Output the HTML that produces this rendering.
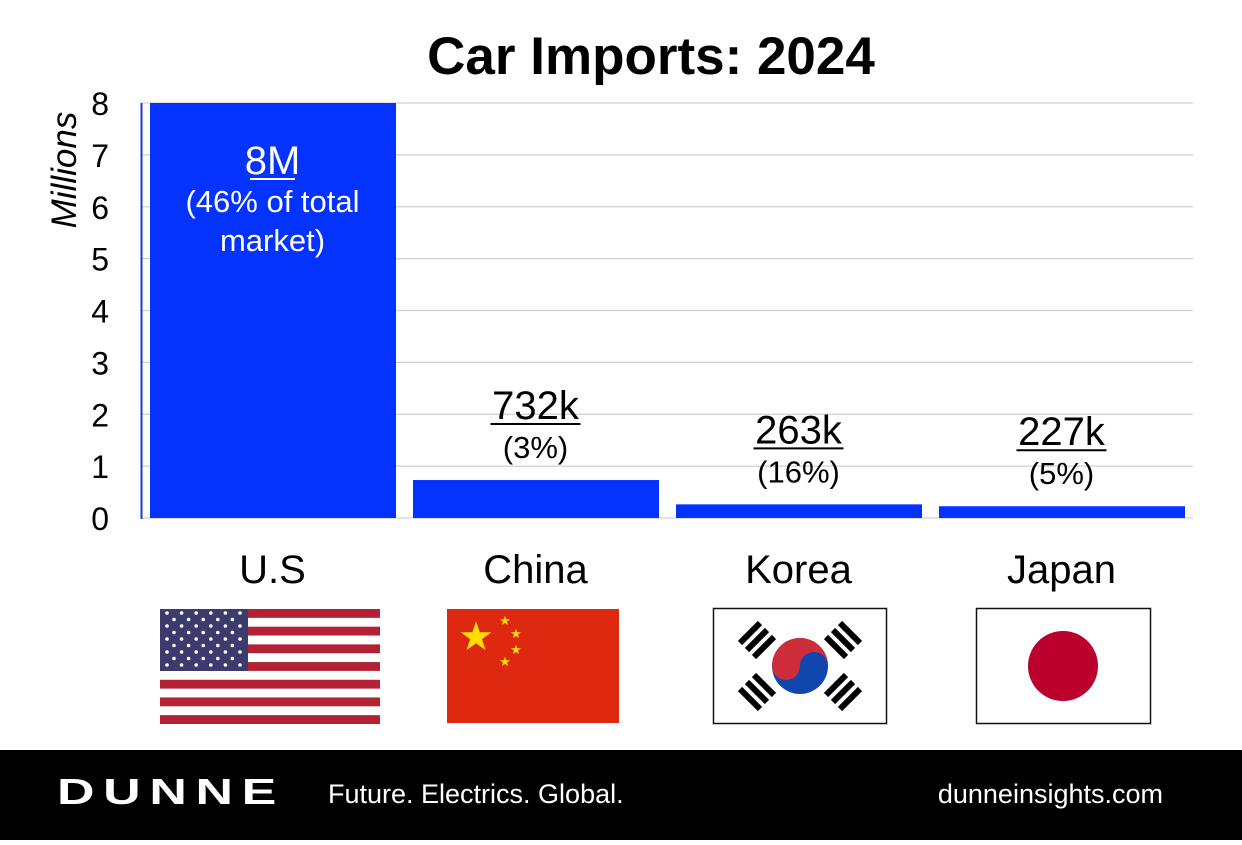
<!DOCTYPE html>
<html><head><meta charset="utf-8"><style>
body{margin:0;width:1242px;height:840px;background:#fff;overflow:hidden;font-family:"Liberation Sans",Arial,sans-serif}
</style></head><body>
<svg width="1242" height="840" viewBox="0 0 1242 840" xmlns="http://www.w3.org/2000/svg" font-family="Liberation Sans, Arial, sans-serif">
<text x="651" y="74" text-anchor="middle" font-size="53" font-weight="bold">Car Imports: 2024</text>
<text transform="translate(76,170) rotate(-90)" text-anchor="middle" font-size="35" font-style="italic">Millions</text>
<g id="grid"></g><g id="bars"></g><g id="labels"></g>
<line x1="141.5" y1="103" x2="141.5" y2="519" stroke="#1a3ad0" stroke-width="2"/>
<g>
<rect x="160" y="609" width="220" height="115" fill="#fff"/>
<g id="stripes"></g>
<rect x="160" y="609" width="88" height="62" fill="#3c3b6e"/>
<g id="stars"></g>
</g>
<g>
<rect x="447" y="609" width="172" height="114" fill="#de2910"/>
<text x="476" y="650" text-anchor="middle" font-size="40" fill="#ffde00">★</text>
<text x="505" y="625" text-anchor="middle" font-size="13" fill="#ffde00">★</text>
<text x="516" y="638" text-anchor="middle" font-size="13" fill="#ffde00">★</text>
<text x="516" y="654" text-anchor="middle" font-size="13" fill="#ffde00">★</text>
<text x="505" y="666" text-anchor="middle" font-size="13" fill="#ffde00">★</text>
</g>
<g>
<rect x="713.5" y="608.5" width="173" height="115" fill="#fff" stroke="#111" stroke-width="1.5"/>
<circle cx="800" cy="666" r="28" fill="#0f47af"/>
<path d="M772 666 A28 28 0 0 1 828 666 A14 14 0 0 0 800 666 A14 14 0 0 1 772 666Z" fill="#cd2e3a"/>
<g stroke="#000" stroke-width="6">
<path d="M740 643 L760 623 M747 650 L767 630 M754 657 L774 637"/>
<path d="M826 637 L846 657 M833 630 L853 650 M840 623 L860 643"/>
<path d="M740 689 L760 709 M747 682 L767 702 M754 675 L774 695"/>
<path d="M826 695 L846 675 M833 702 L853 682 M840 709 L860 689"/>
</g>
</g>
<g>
<rect x="976.5" y="608.5" width="174" height="115" fill="#fff" stroke="#111" stroke-width="1.5"/>
<circle cx="1063" cy="666" r="35" fill="#bc002d"/>
</g>
<rect x="0" y="750" width="1242" height="90" fill="#000"/>
<text x="57" y="804" font-size="36" font-weight="bold" fill="#fff" letter-spacing="6" textLength="228" lengthAdjust="spacingAndGlyphs">DUNNE</text>
<text x="328" y="803" font-size="27" fill="#fff">Future. Electrics. Global.</text>
<text x="1163" y="803" text-anchor="end" font-size="27" fill="#fff">dunneinsights.com</text>
</svg>
<script>
const categories=["U.S","China","Korea","Japan"];
const values=[8,0.732,0.263,0.227];
const valueLabels=["8M","732k","263k","227k"];
const pctLabels=["(46% of total","(3%)","(16%)","(5%)"];
const ticks=[0,1,2,3,4,5,6,7,8];
const NS="http://www.w3.org/2000/svg";
const x0=141,bandW=263,yBase=518,yTop=103,yMax=8;
function y(v){return yBase-(v/yMax)*(yBase-yTop);}
function xb(i){return x0+i*bandW;}
function mk(tag,attrs,parent,text){const e=document.createElementNS(NS,tag);for(const k in attrs)e.setAttribute(k,attrs[k]);if(text!==undefined)e.textContent=text;parent.appendChild(e);return e;}
const grid=document.getElementById('grid'),bars=document.getElementById('bars'),labels=document.getElementById('labels');
ticks.forEach(t=>{
 const l=mk('line',{x1:x0,x2:1193,y1:y(t),y2:y(t),stroke:'#d0d0d0','stroke-width':1.2},grid);
 
 
 const tl=mk('text',{x:109,y:y(t)+12,'text-anchor':'end','font-size':32},grid,String(t));
 
 
});
categories.forEach((c,i)=>{
 const bx=xb(i)+9,bw=bandW-17,top=y(values[i]);
 const r=mk('rect',{x:bx,y:top,width:bw,height:yBase-top,fill:'#0433ff'},bars);
 
 
 const cx=xb(i)+bandW/2;
 const cl=mk('text',{x:cx,y:583,'text-anchor':'middle','font-size':40},labels,c);
 
 
 let vy,py,col;
 if(i===0){vy=top+71;py=top+109;col='#fff';}else{vy=top-61;py=top-22;col='#000';}
 const vl=mk('text',{x:cx,y:vy,'text-anchor':'middle','font-size':40,fill:col},labels,valueLabels[i]);
 
 
 const w=valueLabels[i].length*22.5;
 const ul=mk('line',{x1:cx-w/2,x2:cx+w/2,y1:vy+5,y2:vy+5,stroke:col,'stroke-width':2},labels);
 
 
 const pl=mk('text',{x:cx,y:py,'text-anchor':'middle','font-size':31,fill:col},labels,pctLabels[i]);
 
 
 if(i===0){const m=mk('text',{x:cx,y:py+39,'text-anchor':'middle','font-size':31,fill:col},labels,'market)');
 
 }
});
const st=document.getElementById('stripes');
for(let k=0;k<13;k++){if(k%2===0){mk('rect',{x:160,y:609+k*115/13,width:220,height:115/13,fill:'#b22234'},st);}}
const ss=document.getElementById('stars');
for(let r=0;r<9;r++){const n=r%2===0?6:5;for(let c=0;c<n;c++){mk('circle',{cx:160+(r%2===0?7:14)+c*14.6,cy:613+r*6.5,r:1.8,fill:'#fff'},ss);}}
</script>
</body></html>
